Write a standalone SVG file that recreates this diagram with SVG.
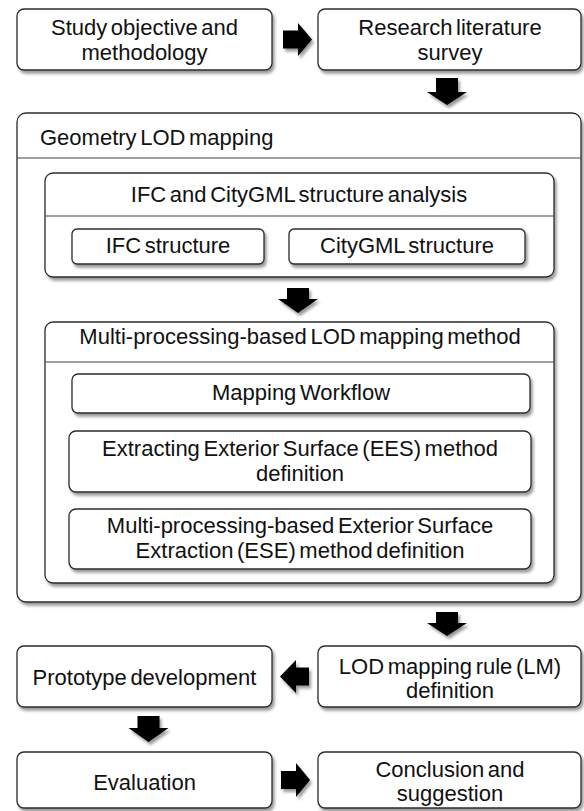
<svg xmlns="http://www.w3.org/2000/svg" width="584" height="811" viewBox="0 0 584 811">
<style>
.box{fill:#fff;stroke:#2b2b2b;stroke-width:1.3;filter:url(#sh)}
.div{stroke:#444;stroke-width:1.2}
.t{font-family:"Liberation Sans",Arial,sans-serif;font-size:22px;fill:#111;text-anchor:middle;word-spacing:-2.5px}
.l{text-anchor:start}
.arr{fill:#000;filter:url(#sh)}
</style>
<defs>
<filter id="sh" x="-10%" y="-10%" width="130%" height="130%">
<feDropShadow dx="2" dy="3" stdDeviation="1.6" flood-color="#000" flood-opacity="0.4"/>
</filter>
</defs>
<rect width="584" height="811" fill="#fff"/>

<g id="study">
<rect class="box" x="17" y="9" width="255" height="61" rx="7"/>
<text class="t" x="144.5" y="35">Study objective and</text>
<text class="t" x="144.5" y="60">methodology</text>
</g>
<g id="survey">
<rect class="box" x="318" y="9" width="263" height="61" rx="7"/>
<text class="t" x="450" y="35">Research literature</text>
<text class="t" x="450" y="60">survey</text>
</g>

<g id="geometry">
<rect class="box" x="17" y="113" width="564" height="489" rx="9"/>
<line class="div" x1="17" y1="158" x2="581" y2="158"/>
<text class="t l" x="40" y="145">Geometry LOD mapping</text>
</g>

<g id="analysis">
<rect class="box" x="45" y="173" width="509" height="104" rx="8"/>
<line class="div" x1="45" y1="216" x2="554" y2="216"/>
<text class="t" x="299" y="202">IFC and CityGML structure analysis</text>
</g>
<g id="ifc">
<rect class="box" x="72" y="229" width="192" height="35" rx="5"/>
<text class="t" x="168" y="253">IFC structure</text>
</g>
<g id="citygml">
<rect class="box" x="289" y="229" width="236" height="35" rx="5"/>
<text class="t" x="407" y="253">CityGML structure</text>
</g>

<g id="method">
<rect class="box" x="45" y="322" width="509" height="261" rx="8"/>
<line class="div" x1="45" y1="362" x2="554" y2="362"/>
<text class="t" x="300" y="344">Multi-processing-based LOD mapping method</text>
</g>
<g id="workflow">
<rect class="box" x="72" y="374" width="458" height="39" rx="6"/>
<text class="t" x="301" y="400">Mapping Workflow</text>
</g>
<g id="ees">
<rect class="box" x="69" y="431" width="462" height="61" rx="7"/>
<text class="t" x="300" y="456">Extracting Exterior Surface (EES) method</text>
<text class="t" x="300" y="481">definition</text>
</g>
<g id="ese">
<rect class="box" x="69" y="509" width="462" height="60" rx="7"/>
<text class="t" x="300" y="533">Multi-processing-based Exterior Surface</text>
<text class="t" x="300" y="558">Extraction (ESE) method definition</text>
</g>

<g id="lmrule">
<rect class="box" x="318" y="646" width="263" height="61" rx="7"/>
<text class="t" x="450" y="674">LOD mapping rule (LM)</text>
<text class="t" x="450" y="698">definition</text>
</g>
<g id="prototype">
<rect class="box" x="17" y="646" width="255" height="61" rx="7"/>
<text class="t" x="144.5" y="685">Prototype development</text>
</g>
<g id="evaluation">
<rect class="box" x="17" y="752" width="255" height="56" rx="7"/>
<text class="t" x="144.5" y="790">Evaluation</text>
</g>
<g id="conclusion">
<rect class="box" x="318" y="752" width="263" height="56" rx="7"/>
<text class="t" x="450" y="777">Conclusion and</text>
<text class="t" x="450" y="801">suggestion</text>
</g>

<g id="connectors">
<polygon class="arr" points="283,30.5 298,30.5 298,23 312,39.5 298,56 298,48.5 283,48.5"/>
<polygon class="arr" points="436,78 458,78 458,92 467,92 447,105 427,92 436,92"/>
<polygon class="arr" points="287,288 309,288 309,299 318,299 298,313 278,299 287,299"/>
<polygon class="arr" points="436,612 458,612 458,623 467,623 447,636 427,623 436,623"/>
<polygon class="arr" points="309,667.5 296,667.5 296,660 280,676.5 296,693 296,685.5 309,685.5"/>
<polygon class="arr" points="137.5,716 159.5,716 159.5,728 168.5,728 148.5,742 128.5,728 137.5,728"/>
<polygon class="arr" points="281,771 296,771 296,763 310,780 296,797 296,789 281,789"/>
</g>
</svg>
